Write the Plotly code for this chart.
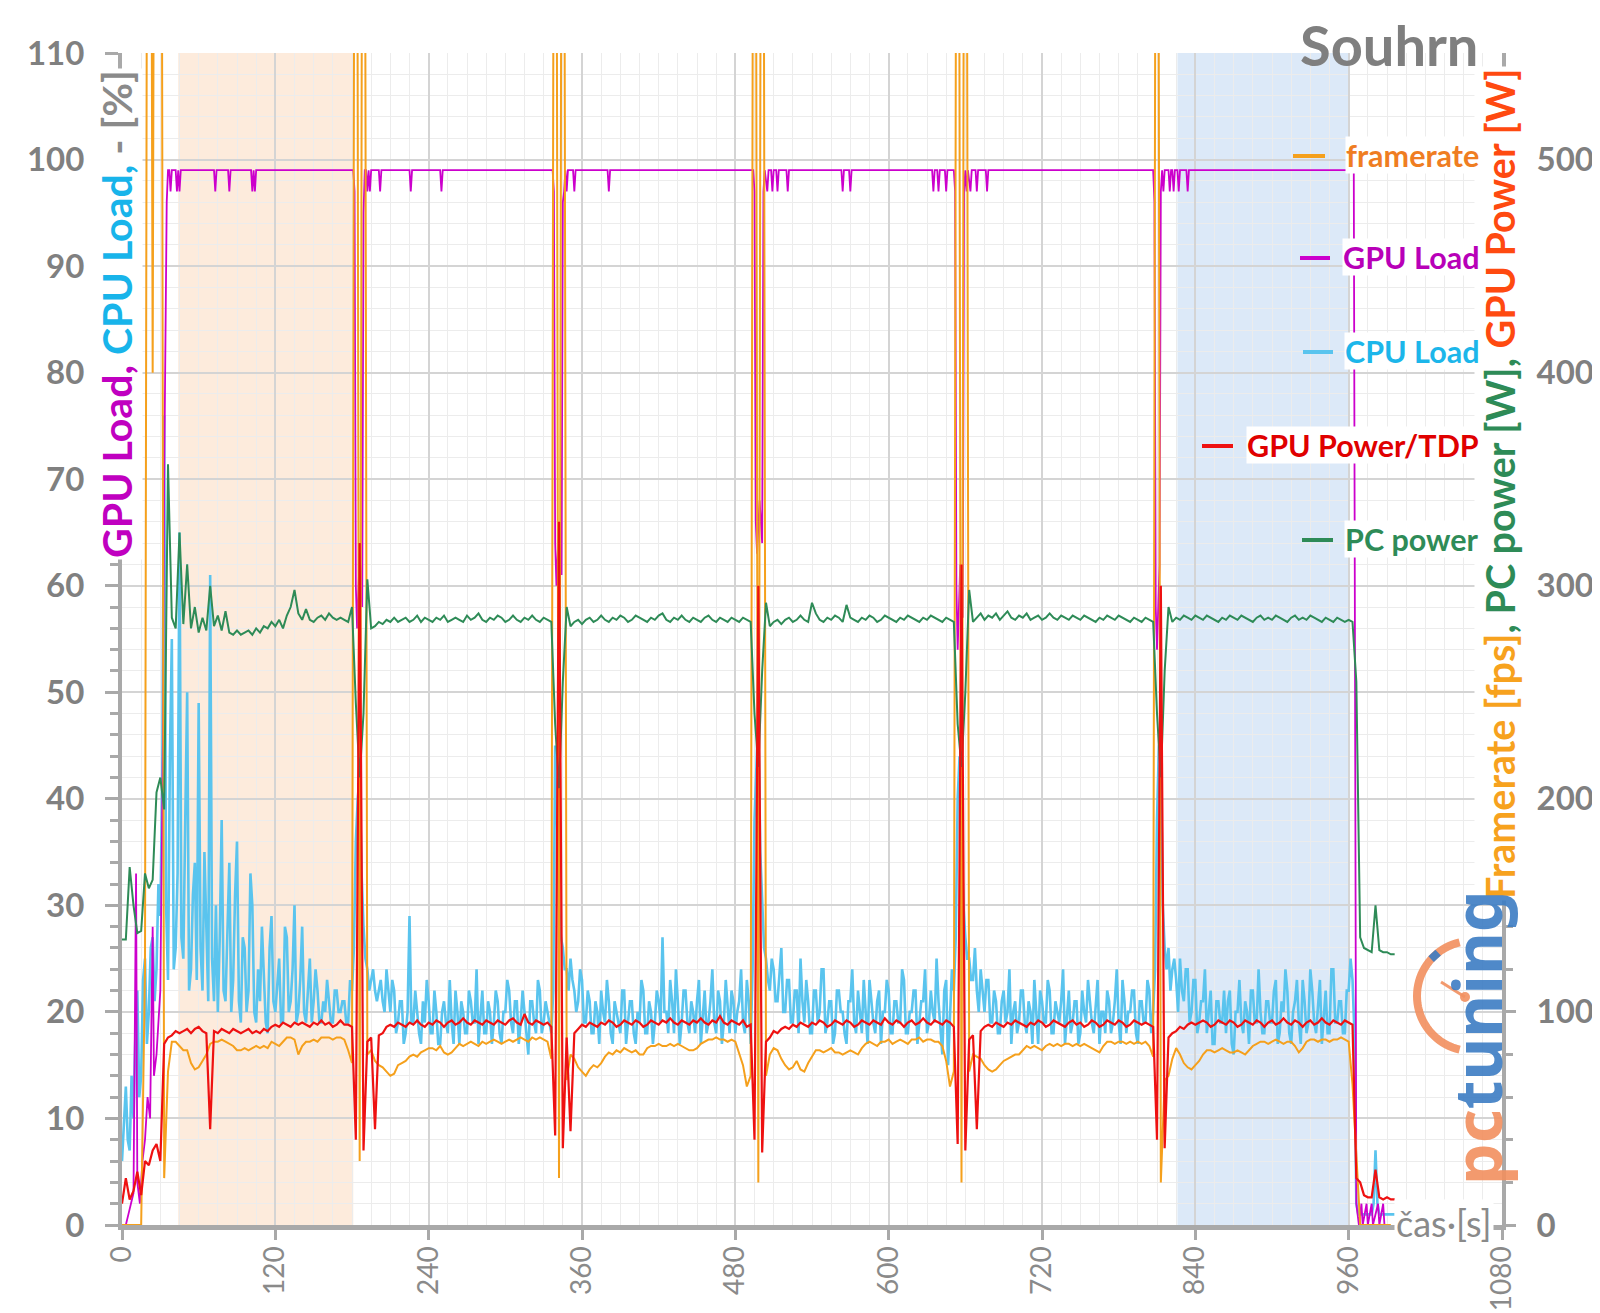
import math
import plotly.graph_objects as go

# ---------------- data ----------------
# samples grouped in blocks that start at each loading transition
BLOCK_START = [0, 183, 339, 495, 654, 810, 966]
STEP = 3        # s, sampling of GPU power / framerate / PC power
CPU_STEP = 1.5  # s, sampling of CPU load

cpu_load = [  # [%]
    [6, 9, 13, 8, 7, 14, 10, 18, 22, 12,
     14, 23, 25, 17, 20, 26, 27, 21, 24, 32,
     29, 42, 76, 30, 23, 44, 55, 24, 26, 33,
     65, 27, 25, 38, 50, 22, 24, 31, 34, 23,
     49, 26, 22, 35, 28, 21, 61, 25, 21, 30,
     20, 27, 38, 22, 21, 29, 34, 20, 23, 31,
     36, 21, 19, 27, 26, 20, 22, 33, 30, 20,
     19, 24, 21, 28, 24, 19, 18, 26, 29, 21,
     20, 23, 25, 19, 19, 28, 27, 20, 21, 24,
     30, 19, 20, 23, 28, 20, 19, 22, 25, 19,
     21, 24, 22, 19, 19, 21, 20, 23, 21, 19,
     19, 22, 22, 20, 20, 21, 21, 19, 19, 23,
     22, 26],
    [36, 40, 42, 33, 28, 25, 24, 22, 23, 24,
     22, 21, 22, 23, 21, 20, 24, 22, 20, 23,
     22, 18, 19, 21, 21, 17, 18, 20, 29, 19,
     19, 22, 20, 18, 17, 21, 19, 23, 21, 18,
     18, 22, 20, 17, 17, 20, 21, 19, 18, 23,
     19, 17, 22, 20, 17, 21, 20, 18, 18, 22,
     21, 19, 19, 24, 17, 20, 22, 18, 18, 21,
     20, 17, 19, 22, 21, 18, 17, 20, 20, 23,
     22, 19, 18, 21, 21, 17, 19, 22, 20, 18,
     16, 21, 21, 19, 18, 23, 22, 18, 19, 21,
     20, 19, 18, 22],
    [45, 38, 30, 27, 26, 24, 24, 22, 25, 23,
     22, 20, 21, 24, 23, 19, 19, 22, 21, 18,
     18, 21, 20, 17, 22, 20, 19, 23, 21, 18,
     17, 21, 20, 19, 18, 22, 22, 17, 19, 21,
     21, 18, 17, 20, 19, 23, 22, 18, 18, 21,
     20, 17, 19, 22, 21, 19, 27, 20, 20, 18,
     23, 21, 18, 24, 21, 17, 19, 22, 22, 19,
     18, 21, 20, 18, 21, 23, 17, 20, 22, 18,
     19, 21, 24, 19, 18, 22, 21, 17, 19, 23,
     20, 18, 22, 21, 18, 20, 21, 24, 19, 18,
     23, 21, 17, 24],
    [38, 44, 48, 35, 30, 26, 25, 23, 22, 25,
     24, 21, 21, 24, 26, 20, 20, 23, 23, 19,
     19, 22, 22, 18, 25, 21, 19, 23, 21, 18,
     18, 22, 22, 19, 20, 24, 24, 18, 19, 21,
     21, 17, 18, 22, 22, 20, 20, 18, 17, 21,
     21, 24, 19, 18, 22, 20, 18, 23, 20, 17,
     23, 21, 19, 18, 21, 22, 17, 20, 20, 23,
     22, 18, 18, 21, 21, 19, 19, 24, 23, 18,
     18, 20, 20, 22, 22, 17, 19, 21, 21, 24,
     18, 19, 22, 20, 19, 25, 21, 18, 16, 22,
     23, 15, 20, 24, 22, 27],
    [40, 44, 36, 30, 27, 25, 25, 23, 23, 26,
     22, 20, 24, 22, 20, 23, 23, 19, 19, 22,
     21, 18, 18, 21, 22, 19, 20, 24, 17, 20,
     21, 18, 19, 22, 22, 19, 18, 21, 20, 17,
     23, 20, 17, 22, 21, 19, 19, 23, 22, 18,
     18, 21, 20, 19, 21, 24, 17, 20, 22, 18,
     19, 21, 21, 17, 18, 22, 20, 19, 23, 21,
     19, 18, 21, 23, 17, 20, 20, 18, 22, 21,
     18, 19, 21, 24, 19, 17, 23, 21, 18, 20,
     20, 22, 22, 18, 17, 21, 21, 19, 19, 23,
     22, 18, 20, 24],
    [38, 45, 44, 30, 26, 24, 26, 22, 24, 25,
     23, 20, 25, 22, 21, 24, 24, 19, 20, 23,
     23, 18, 19, 21, 21, 24, 18, 20, 22, 17,
     17, 21, 21, 19, 19, 22, 18, 21, 22, 17,
     16, 20, 20, 23, 19, 18, 21, 20, 17, 22,
     22, 19, 19, 24, 20, 18, 18, 21, 21, 19,
     19, 22, 23, 17, 18, 21, 20, 24, 22, 18,
     17, 20, 21, 23, 19, 17, 23, 21, 18, 19,
     24, 22, 19, 18, 21, 23, 17, 20, 22, 18,
     18, 24, 24, 19, 19, 21, 21, 18, 18, 22,
     22, 25, 23, 18],
    [2, 1, 1, 1, 1, 1, 1, 1, 1, 2,
     7, 2, 1, 1, 1, 1, 1, 1, 1, 1,
     1],
]

gpu_power = [  # [W]
    [10, 22, 12, 16, 25, 14, 30, 28, 35, 38,
     30, 85, 88, 89, 91, 90, 91, 92, 90, 92,
     93, 91, 90, 45, 91, 90, 92, 91, 90, 92,
     91, 90, 91, 92, 90, 91, 90, 92, 91, 93,
     94, 93, 95, 94, 93, 95, 94, 95, 94, 93,
     95, 94, 96, 94, 95, 93, 94, 96, 94, 94,
     93],
    [40, 320, 35, 86, 88, 45, 89, 90, 93, 94,
     93, 95, 94, 93, 95, 94, 96, 94, 93, 95,
     94, 96, 95, 93, 95, 96, 94, 95, 97, 95,
     94, 96, 95, 94, 96, 95, 94, 96, 95, 94,
     96, 97, 95, 94, 99, 95, 94, 96, 95, 94,
     95, 93],
    [42, 330, 36, 88, 44, 90, 92, 94, 93, 95,
     94, 93, 95, 94, 96, 95, 93, 94, 96, 95,
     94, 96, 95, 93, 94, 96, 95, 94, 96, 95,
     97, 95, 94, 96, 95, 94, 96, 95, 97, 95,
     94, 96, 95, 98, 95, 94, 96, 95, 94, 96,
     93, 94],
    [40, 300, 34, 86, 88, 91, 90, 92, 93, 92,
     94, 93, 95, 94, 93, 95, 94, 96, 95, 93,
     94, 96, 95, 94, 96, 95, 93, 94, 96, 95,
     94, 96, 95, 94, 97, 95, 94, 96, 95, 93,
     95, 96, 94, 95, 97, 95, 94, 96, 95, 94,
     96, 95, 93],
    [38, 310, 35, 87, 89, 45, 91, 93, 94, 93,
     95, 94, 93, 95, 94, 96, 95, 94, 93, 95,
     94, 96, 95, 93, 94, 96, 95, 94, 93, 95,
     96, 94, 95, 93, 94, 96, 95, 93, 94, 96,
     95, 94, 96, 95, 93, 94, 96, 95, 94, 95,
     94, 93],
    [40, 300, 36, 88, 90, 91, 93, 92, 94, 95,
     94, 95, 96, 95, 93, 94, 96, 95, 94, 96,
     95, 93, 94, 96, 95, 94, 96, 95, 93, 95,
     96, 94, 95, 97, 95, 94, 96, 95, 93, 95,
     96, 94, 95, 97, 95, 94, 96, 95, 94, 96,
     95, 94],
    [22, 20, 14, 13, 13, 26, 13, 12, 13, 12, 12],
]

framerate = [  # [fps]
    [0, 0, 0, 0, 0, 0, 120, 1100, 400, 1100,
     1000, 22, 72, 86, 86, 84, 82, 82, 76, 73,
     74, 77, 80, 85, 86, 86, 87, 86, 85, 84,
     82, 82, 83, 82, 83, 84, 83, 84, 83, 86,
     85, 84, 86, 88, 88, 87, 80, 84, 86, 86,
     87, 86, 88, 88, 88, 87, 88, 88, 87, 82,
     76],
    [1000, 30, 1000, 80, 82, 77, 75, 74, 72, 70,
     71, 75, 76, 77, 79, 80, 79, 81, 82, 83,
     83, 82, 84, 81, 80, 81, 83, 85, 84, 85,
     86, 85, 84, 86, 85, 86, 87, 86, 85, 86,
     87, 86, 87, 88, 87, 86, 88, 87, 88, 87,
     86, 78],
    [1000, 22, 1000, 68, 80, 78, 74, 72, 70, 73,
     75, 74, 76, 79, 81, 80, 82, 81, 83, 82,
     81, 82, 80, 80, 83, 84, 84, 85, 84, 84,
     85, 84, 85, 84, 83, 82, 82, 83, 85, 86,
     87, 87, 88, 87, 87, 86, 87, 86, 81, 75,
     65, 70],
    [1000, 20, 1000, 70, 80, 83, 82, 78, 75, 73,
     74, 77, 73, 72, 76, 79, 82, 82, 81, 82,
     83, 81, 81, 80, 81, 82, 81, 80, 83, 85,
     86, 85, 84, 86, 86, 87, 85, 86, 87, 86,
     85, 87, 87, 88, 86, 87, 87, 86, 86, 84,
     77, 65, 72],
    [1000, 20, 1000, 72, 80, 79, 78, 75, 73, 72,
     73, 75, 77, 78, 79, 80, 80, 82, 84, 83,
     84, 83, 82, 84, 85, 84, 85, 84, 85, 85,
     84, 85, 84, 85, 84, 83, 82, 81, 84, 86,
     86, 85, 86, 86, 85, 86, 85, 86, 85, 86,
     84, 79],
    [1000, 20, 68, 70, 78, 83, 80, 76, 74, 73,
     75, 77, 80, 82, 82, 81, 82, 83, 82, 81,
     81, 82, 81, 80, 82, 84, 85, 86, 86, 85,
     86, 87, 86, 85, 86, 86, 84, 81, 83, 86,
     87, 87, 86, 87, 87, 86, 87, 87, 88, 87,
     86, 66],
    [30, 0, 0, 0, 0, 0, 0, 0, 0, 0],
]

pc_power = [  # [W]
    [134, 134, 168, 150, 137, 138, 165, 158, 162, 203,
     210, 195, 357, 285, 280, 325, 282, 310, 280, 290,
     278, 285, 279, 300, 281, 286, 279, 288, 278, 277,
     279, 277, 278, 279, 277, 280, 278, 281, 280, 283,
     281, 284, 280, 286, 290, 298, 287, 284, 289, 284,
     283, 285, 286, 284, 287, 285, 284, 285, 284, 283,
     290],
    [245, 210, 240, 303, 280, 281, 283, 282, 284, 283,
     285, 283, 284, 285, 283, 284, 286, 283, 285, 284,
     283, 285, 284, 286, 283, 284, 285, 284, 283, 286,
     284, 285, 287, 284, 283, 285, 284, 286, 285, 283,
     284, 286, 284, 283, 285, 284, 286, 284, 283, 285,
     284, 283],
    [235, 205, 255, 290, 281, 283, 284, 282, 284, 285,
     283, 284, 286, 284, 283, 285, 284, 286, 285, 283,
     284, 286, 285, 284, 283, 285, 284, 286, 287, 284,
     283, 285, 284, 286, 284, 283, 285, 284, 283, 285,
     286, 284, 283, 285, 284, 283, 285, 284, 283, 285,
     284, 283],
    [240, 215, 260, 292, 281, 283, 284, 282, 284, 285,
     283, 284, 286, 284, 283, 292, 287, 284, 283, 285,
     284, 286, 285, 283, 291, 285, 284, 283, 285, 284,
     286, 285, 283, 284, 286, 285, 284, 283, 285, 284,
     286, 285, 284, 283, 285, 284, 286, 285, 284, 283,
     285, 284, 283],
    [235, 215, 250, 298, 283, 285, 287, 284, 286, 285,
     287, 284, 286, 288, 285, 284, 286, 285, 287, 284,
     285, 286, 284, 285, 287, 285, 284, 286, 285, 284,
     286, 285, 284, 286, 285, 284, 283, 285, 284, 286,
     285, 284, 286, 285, 284, 283, 285, 284, 283, 285,
     284, 283],
    [240, 210, 260, 290, 283, 285, 284, 286, 285, 284,
     286, 285, 284, 286, 285, 284, 283, 285, 284, 286,
     285, 284, 286, 285, 284, 283, 285, 286, 284, 285,
     284, 286, 285, 284, 283, 285, 286, 284, 285, 284,
     286, 285, 284, 283, 285, 284, 283, 285, 284, 283,
     284, 283],
    [255, 135, 130, 129, 128, 150, 129, 128, 128, 127, 127],
]

# GPU load is a step-like trace; its samples are listed with their own times
gpu_load_t = [0, 3, 5, 7, 9, 11, 12, 14, 16, 18, 20, 22, 24, 25, 27, 30, 32, 33, 34, 35, 36,
              37, 38, 39, 42, 43, 44, 45, 46, 72, 73, 74, 83, 84, 85, 101, 102, 103, 104, 105,
              181, 182, 183, 184, 186, 188, 189, 190,
              191, 192, 193, 194, 195, 201, 202, 203, 225, 226, 227, 249, 250, 251,
              337, 338, 339, 340, 342, 344, 345, 346, 347, 348, 349, 353, 354, 355, 380, 381, 382,
              494, 495, 496, 497, 499, 501, 502, 503, 505, 506, 508, 509, 510, 512, 513, 514,
              520, 521, 522, 563, 564, 565, 569, 570, 571,
              634, 635, 636, 638, 639, 640, 644, 645, 646,
              651, 652, 653, 654, 656, 658, 659, 660, 661, 662, 664, 665, 668, 669, 670, 676, 677, 678,
              807, 808, 809, 810, 812, 813, 814, 815, 816, 819, 820, 821, 822, 823, 824, 826, 827, 828,
              833, 834, 835,
              964, 966, 968, 970, 971, 974, 975, 978, 979, 983, 984, 987, 988, 991]
gpu_load_v = [0, 0, 1, 2, 3, 33, 4, 2, 6, 8, 12, 10, 28, 14, 16, 22, 45, 70, 88, 96, 99,
              99, 97, 99, 99, 97, 99, 97, 99, 99, 97, 99, 99, 97, 99, 99, 97, 99, 97, 99,
              99, 97, 60, 56, 63, 58, 95, 99,
              99, 97, 99, 97, 99, 99, 97, 99, 99, 97, 99, 99, 97, 99,
              99, 97, 64, 60, 66, 61, 96, 97, 99, 97, 99, 99, 97, 99, 99, 97, 99,
              99, 97, 66, 63, 68, 64, 97, 99, 97, 99, 99, 97, 99, 99, 97, 99,
              99, 97, 99, 99, 97, 99, 99, 97, 99,
              99, 97, 99, 99, 97, 99, 99, 97, 99,
              99, 97, 60, 54, 62, 57, 97, 99, 97, 99, 97, 99, 99, 97, 99, 99, 97, 99,
              99, 96, 58, 54, 62, 97, 99, 97, 99, 99, 97, 99, 99, 97, 99, 99, 97, 99,
              99, 97, 99,
              99, 2, 0, 2, 0, 2, 0, 2, 0, 2, 0, 2, 0, 0]

x_ticks = [0, 120, 240, 360, 480, 600, 720, 840, 960, 1080]
legend_labels = ["framerate", "GPU Load", "CPU Load", "GPU Power/TDP", "PC power"]

# highlighted intervals [s]
ORANGE_BAND = (44, 181)
BLUE_BAND = (826, 960)


def expand(blocks, step):
    xs, ys = [], []
    for b, vals in enumerate(blocks):
        start = BLOCK_START[b]
        end = BLOCK_START[b + 1] if b + 1 < len(BLOCK_START) else None
        for k, v in enumerate(vals):
            t = start + step * k
            if end is not None and t >= end:
                break
            xs.append(t)
            ys.append(v)
    return xs, ys


# ---------------- figure ----------------
W, H = 1600, 1313
OFF = 8                             # page body margin of the html page
L, R, T, B = 122, 1502, 53, 1225    # plot area in page pixels


def pxx(X):
    return (X - L) / (R - L)


def pxy(Y):
    return (B - Y) / (B - T)


C_FPS = "#f5a01c"
C_GPU = "#cc00cc"
C_CPU = "#5ac4ee"
C_GPW = "#ee1111"
C_PCW = "#2e8b57"
GREY = "#8a8a8a"
AX = "#a9a9a9"

fig = go.Figure()

fx, fy = expand(framerate, STEP)
fig.add_trace(go.Scatter(x=fx, y=fy, yaxis="y2", mode="lines",
                         line=dict(color=C_FPS, width=2), name="framerate"))
cx, cy = expand(cpu_load, CPU_STEP)
fig.add_trace(go.Scatter(x=cx, y=cy, yaxis="y", mode="lines",
                         line=dict(color=C_CPU, width=2.6), name="CPU Load"))
px_, py_ = expand(pc_power, STEP)
fig.add_trace(go.Scatter(x=px_, y=py_, yaxis="y2", mode="lines",
                         line=dict(color=C_PCW, width=2), name="PC power"))
gx, gy = expand(gpu_power, STEP)
fig.add_trace(go.Scatter(x=gx, y=gy, yaxis="y2", mode="lines",
                         line=dict(color=C_GPW, width=2.2), name="GPU Power/TDP"))
fig.add_trace(go.Scatter(x=gpu_load_t, y=gpu_load_v, yaxis="y", mode="lines",
                         line=dict(color=C_GPU, width=1.8), name="GPU Load"))

shapes = [
    dict(type="rect", xref="x", yref="paper", x0=ORANGE_BAND[0], x1=ORANGE_BAND[1],
         y0=0, y1=1, fillcolor="#fdebdc", line=dict(width=0), layer="below"),
    dict(type="rect", xref="x", yref="paper", x0=BLUE_BAND[0], x1=BLUE_BAND[1],
         y0=0, y1=1, fillcolor="#dce9f8", line=dict(width=0), layer="below"),
]

# pctuning logo gauge (decoration)
gcx, gcy, gr = 1472, 996, 55
arc = []
for i in range(0, 41):
    a = math.radians(103 + (257 - 103) * i / 40)
    arc.append((gcx + gr * math.cos(a), gcy + gr * math.sin(a)))
path = "M " + " L ".join(f"{pxx(X):.5f},{pxy(Y):.5f}" for X, Y in arc)
shapes.append(dict(type="path", xref="paper", yref="paper", path=path,
                   line=dict(color="#f2905f", width=8), opacity=0.9, layer="above"))
shapes.append(dict(type="line", xref="paper", yref="paper",
                   x0=pxx(1465), y0=pxy(997), x1=pxx(1441), y1=pxy(982),
                   line=dict(color="#f2905f", width=3), opacity=0.9))
shapes.append(dict(type="circle", xref="paper", yref="paper",
                   x0=pxx(1460), y0=pxy(1002), x1=pxx(1470), y1=pxy(992),
                   fillcolor="#f2905f", line=dict(width=0), opacity=0.9))
ba = [math.radians(a) for a in (222, 232)]
shapes.append(dict(type="line", xref="paper", yref="paper",
                   x0=pxx(gcx + gr * math.cos(ba[0])), y0=pxy(gcy + gr * math.sin(ba[0])),
                   x1=pxx(gcx + gr * math.cos(ba[1])), y1=pxy(gcy + gr * math.sin(ba[1])),
                   line=dict(color="#3c7dc4", width=8), opacity=0.9))

FONT = "Lato"
ann = []
ann.append(dict(xref="paper", yref="paper", x=pxx(1480), y=pxy(44), xanchor="right",
                yanchor="middle", showarrow=False, text="Souhrn",
                font=dict(family=FONT, size=56, color="#7f7f7f", weight="bold")))
ann.append(dict(xref="paper", yref="paper", x=pxx(116), y=pxy(314), xanchor="center",
                yanchor="middle", showarrow=False, textangle=-90, bgcolor="white",
                text="<span style='color:#c000c0'>GPU Load, </span>"
                     "<span style='color:#18b4ea'>CPU Load, </span>"
                     "<span style='color:#8a8a8a'>- [%]</span>",
                font=dict(family=FONT, size=41, weight="bold")))
ann.append(dict(xref="paper", yref="paper", x=pxx(1500), y=pxy(484), xanchor="center",
                yanchor="middle", showarrow=False, textangle=-90, bgcolor="white",
                text="<span style='color:#f7a21e'>Framerate [fps]</span>"
                     "<span style='color:#2e8b57'>, PC power [W], </span>"
                     "<span style='color:#ff4a10'>GPU Power [W]</span>",
                font=dict(family=FONT, size=39.5, weight="bold")))

# legend: colored dash + right-aligned label
legend_colors = [("#f5a01c", "#ef7d22"), (C_GPU, "#b800b8"), (C_CPU, "#1cb6ea"),
                 (C_GPW, "#e00000"), (C_PCW, "#2e8b57")]
legend_y = [156, 258, 352, 446, 540]
legend_dash_x = [(1293, 1325), (1300, 1330), (1303, 1333), (1202, 1233), (1302, 1333)]
for lab, (sc, tc), yy, (dx0, dx1) in zip(legend_labels, legend_colors, legend_y, legend_dash_x):
    ann.append(dict(xref="paper", yref="paper", x=pxx(1480), y=pxy(yy - 1), xanchor="right",
                    yanchor="middle", showarrow=False, bgcolor="white", borderpad=0,
                    text=lab, font=dict(family=FONT, size=30.5, color=tc, weight="bold")))
    shapes.append(dict(type="line", xref="paper", yref="paper",
                       x0=pxx(dx0), x1=pxx(dx1), y0=pxy(yy), y1=pxy(yy),
                       line=dict(color=sc, width=4), layer="above"))

ann.append(dict(xref="paper", yref="paper", x=pxx(1494), y=pxy(1223), xanchor="right",
                yanchor="middle", showarrow=False, bgcolor="white", text="čas·[s]",
                font=dict(family=FONT, size=36, color=GREY)))
ann.append(dict(xref="paper", yref="paper", x=pxx(1476), y=pxy(1038), xanchor="center",
                yanchor="middle", showarrow=False, textangle=-90, opacity=0.9,
                text="<span style='color:#f2905f'>pc</span><span style='color:#3c7dc4'>tuning</span>",
                font=dict(family="Noto Sans", size=66, weight="bold")))

fig.update_layout(
    width=W, height=H,
    margin=dict(l=L - OFF, r=W - (R - OFF), t=T - OFF, b=H - (B - OFF), pad=0,
                autoexpand=False),
    paper_bgcolor="white", plot_bgcolor="white",
    showlegend=False,
    shapes=shapes, annotations=ann,
    xaxis=dict(range=[0, 1080], tickvals=x_ticks, ticktext=[str(v) for v in x_ticks],
               tickangle=-90, tickfont=dict(family=FONT, size=28, color=GREY),
               showgrid=True, gridcolor="#d4d4d4", gridwidth=1.5,
               minor=dict(dtick=15, tick0=0, showgrid=True, gridcolor="#ececec", gridwidth=1),
               showline=True, linecolor=AX, linewidth=5,
               ticks="outside", ticklen=10, tickwidth=3, tickcolor=AX,
               zeroline=False, ticklabelstandoff=-5, automargin=False),
    yaxis=dict(range=[0, 110], dtick=10, tick0=0,
               tickfont=dict(family=FONT, size=33, color="#808080", weight="bold"),
               showgrid=True, gridcolor="#d4d4d4", gridwidth=1.5,
               minor=dict(dtick=2, tick0=0, showgrid=True, gridcolor="#ececec", gridwidth=1,
                          ticks="outside", ticklen=8, tickwidth=3, tickcolor=AX),
               showline=True, linecolor=AX, linewidth=4,
               ticks="outside", ticklen=13, tickwidth=3, tickcolor=AX,
               zeroline=False, ticklabelstandoff=14, automargin=False),
    yaxis2=dict(range=[0, 550], dtick=100, tick0=0, overlaying="y", side="right",
                tickfont=dict(family=FONT, size=33, color="#808080", weight="bold"),
                showgrid=False,
                minor=dict(dtick=20, tick0=0, showgrid=False,
                           ticks="outside", ticklen=7, tickwidth=3, tickcolor=AX),
                showline=True, linecolor=AX, linewidth=4,
                ticks="outside", ticklen=10, tickwidth=3, tickcolor=AX,
                zeroline=False, ticklabelstandoff=14, automargin=False),
)

fig.write_html("out.html")
